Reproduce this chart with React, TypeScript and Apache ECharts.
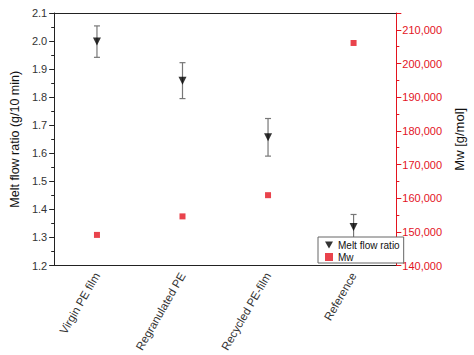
import React, { useEffect, useRef } from "react";
import * as echarts from "echarts";

const categories = ["Virgin PE film", "Regranulated PE", "Recycled PE-film", "Reference"];
const meltFlow = [1.998, 1.859, 1.657, 1.337];
const meltFlowErr = [0.056, 0.064, 0.067, 0.045];
const mw = [149100, 154600, 160900, 206100];
const FONT = "'Liberation Sans', Arial, sans-serif";
const RED = "#e3141f";

export default function App() {
  const ref = useRef<HTMLDivElement>(null);
  useEffect(() => {
    if (!ref.current) return;
    const chart = echarts.init(ref.current, undefined, { renderer: "svg" });
    const errData = categories.map((c, i) => [i, meltFlow[i] - meltFlowErr[i], meltFlow[i] + meltFlowErr[i]]);
    const option: any = {
      animation: false,
      textStyle: { fontFamily: FONT },
      grid: { left: 43, right: 69, top: 13, bottom: 88, containLabel: false },
      legend: {
        orient: "vertical",
        left: 318,
        top: 237,
        padding: [3, 4, 1, 7],
        itemGap: 2,
        itemWidth: 8,
        itemHeight: 8,
        backgroundColor: "#fff",
        borderColor: "#666",
        borderWidth: 1,
        borderRadius: 0,
        textStyle: { fontSize: 10, color: "#111", fontFamily: FONT },
        data: [
          { name: "Melt flow ratio", icon: "path://M0,0 L10,0 L5,9 Z" },
          { name: "Mw", icon: "rect", itemStyle: { color: RED } },
        ],
        z: 20,
      },
      xAxis: [
        {
          type: "category",
          data: categories,
          position: "bottom",
          axisLine: { lineStyle: { color: "#222", width: 1 } },
          axisTick: { alignWithLabel: true, length: 5, lineStyle: { color: "#222" } },
          axisLabel: { rotate: 60, fontSize: 11.5, color: "#333", margin: 8, fontFamily: FONT },
        },
        {
          type: "category",
          data: categories,
          position: "bottom",
          axisLine: { show: false },
          axisTick: { length: 3, lineStyle: { color: "#222" } },
          axisLabel: { show: false },
        },
        {
          type: "category",
          data: categories,
          position: "top",
          axisLine: { lineStyle: { color: "#222", width: 1 } },
          axisTick: { alignWithLabel: true, inside: true, length: 4, lineStyle: { color: "#222" } },
          axisLabel: { show: false },
        },
        {
          type: "category",
          data: categories,
          position: "top",
          axisLine: { show: false },
          axisTick: { inside: true, length: 2, lineStyle: { color: "#222" } },
          axisLabel: { show: false },
        },
      ],
      yAxis: [
        {
          type: "value",
          min: 1.2,
          max: 2.1,
          interval: 0.1,
          position: "left",
          name: "Melt flow ratio (g/10 min)",
          nameLocation: "middle",
          nameRotate: 90,
          nameGap: 27,
          nameTextStyle: { fontSize: 12.5, color: "#111", fontFamily: FONT },
          axisLine: { show: true, lineStyle: { color: "#222" } },
          axisTick: { show: true, length: 5, lineStyle: { color: "#222" } },
          minorTick: { show: true, splitNumber: 2, length: 3, lineStyle: { color: "#222" } },
          splitLine: { show: false },
          axisLabel: { fontSize: 11, color: "#333", margin: 7, formatter: (v: number) => v.toFixed(1), fontFamily: FONT },
        },
        {
          type: "value",
          min: 140000,
          max: 215000,
          interval: 10000,
          position: "right",
          name: "Mw [g/mol]",
          nameLocation: "middle",
          nameRotate: 90,
          nameGap: 53,
          nameTextStyle: { fontSize: 13, color: "#111", fontFamily: FONT },
          axisLine: { show: true, lineStyle: { color: RED } },
          axisTick: { show: true, length: 5, lineStyle: { color: RED } },
          minorTick: { show: true, splitNumber: 2, length: 3, lineStyle: { color: RED } },
          splitLine: { show: false },
          axisLabel: {
            fontSize: 11,
            color: RED,
            margin: 6,
            fontFamily: FONT,
            showMaxLabel: false,
            formatter: (v: number) => v.toLocaleString("en-US"),
          },
        },
      ],
      series: [
        {
          name: "errors",
          type: "custom",
          xAxisIndex: 0,
          yAxisIndex: 0,
          data: errData,
          z: 2,
          renderItem: (params: any, api: any) => {
            const x = api.value(0);
            const lo = api.coord([x, api.value(1)]);
            const hi = api.coord([x, api.value(2)]);
            const cap = 3;
            const style = { stroke: "#777", lineWidth: 1.2 };
            return {
              type: "group",
              children: [
                { type: "line", shape: { x1: lo[0], y1: lo[1], x2: hi[0], y2: hi[1] }, style },
                { type: "line", shape: { x1: lo[0] - cap, y1: lo[1], x2: lo[0] + cap, y2: lo[1] }, style },
                { type: "line", shape: { x1: hi[0] - cap, y1: hi[1], x2: hi[0] + cap, y2: hi[1] }, style },
              ],
            };
          },
        },
        {
          name: "Melt flow ratio",
          type: "scatter",
          xAxisIndex: 0,
          yAxisIndex: 0,
          data: meltFlow,
          symbol: "triangle",
          symbolRotate: 180,
          symbolSize: 8,
          itemStyle: { color: "#000" },
          z: 3,
        },
        {
          name: "Mw",
          type: "scatter",
          xAxisIndex: 0,
          yAxisIndex: 1,
          data: mw,
          symbol: "rect",
          symbolSize: 6,
          itemStyle: { color: RED },
          z: 3,
        },
      ],
    };
    chart.setOption(option);
    return () => chart.dispose();
  }, []);
  return <div ref={ref} style={{ width: 474, height: 355, position: "absolute", left: 0, top: 0, background: "#fff" }} />;
}
